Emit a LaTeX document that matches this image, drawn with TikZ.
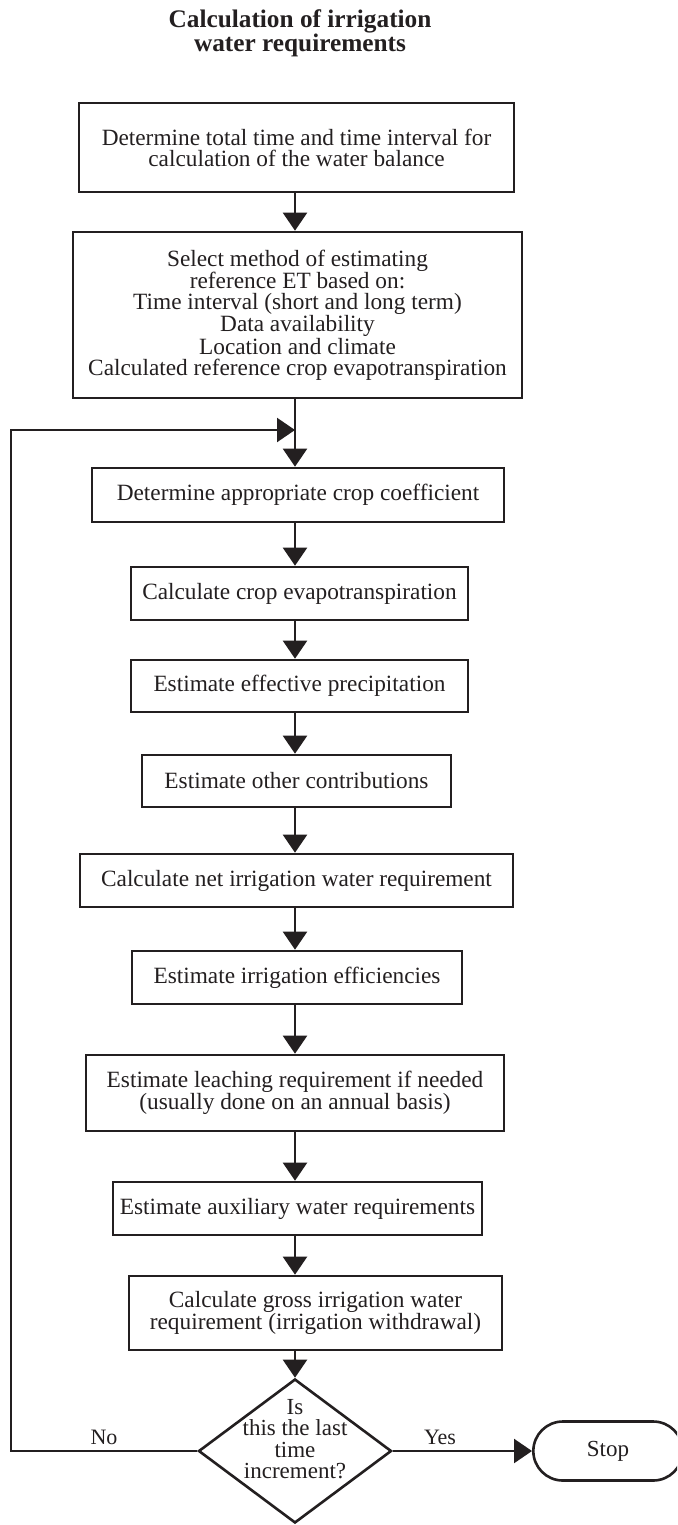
\documentclass[tikz,border=0pt]{standalone}
\usepackage{fontspec}
\setmainfont{Liberation Serif}
\usetikzlibrary{arrows.meta,shapes.geometric,shapes.misc}
\definecolor{ink}{HTML}{231F20}
\begin{document}
\begin{tikzpicture}[x=1pt,y=-1pt,
  box/.style={draw=ink, line width=2.6pt, rectangle, inner sep=0pt, align=center,
              font=\fontsize{23.3}{21}\selectfont, text=ink},
  conn/.style={draw=ink, line width=2.2pt},
  arr/.style={conn, -{Triangle[length=18pt,width=24pt]}},
  lbl/.style={font=\fontsize{22}{22}\selectfont, text=ink, inner sep=0pt}]
\clip (0,0) rectangle (677,1525);
\fill[white] (0,0) rectangle (677,1525);

\node[font=\bfseries\fontsize{25.3}{23}\selectfont, align=center, text=ink, inner sep=0pt] (title) at (300,33)
  {Calculation of irrigation\\water requirements};

\node[box, minimum width=435pt, minimum height=89pt] (b1) at (296.5,147.5)
  {Determine total time and time interval for\\calculation of the water balance};
\node[box, minimum width=449pt, minimum height=166pt] (b2) at (297.5,315)
  {Select method of estimating\\reference ET based on:\\Time interval (short and long term)\\Data availability\\Location and climate\\Calculated reference crop evapotranspiration};
\node[box, minimum width=412pt, minimum height=54pt] (b3) at (298,495)
  {Determine appropriate crop coefficient};
\node[box, minimum width=337pt, minimum height=53pt] (b4) at (299.5,593.5)
  {Calculate crop evapotranspiration};
\node[box, minimum width=337pt, minimum height=52pt] (b5) at (299.5,686)
  {Estimate effective precipitation};
\node[box, minimum width=309pt, minimum height=52pt] (b6) at (296.5,781)
  {Estimate other contributions};
\node[box, minimum width=433pt, minimum height=53pt] (b7) at (296.5,880.5)
  {Calculate net irrigation water requirement};
\node[box, minimum width=330pt, minimum height=53pt] (b8) at (297,977.5)
  {Estimate irrigation efficiencies};
\node[box, minimum width=418pt, minimum height=76pt] (b9) at (295,1093)
  {Estimate leaching requirement if needed\\(usually done on an annual basis)};
\node[box, minimum width=369pt, minimum height=53pt] (b10) at (297.5,1208.5)
  {Estimate auxiliary water requirements};
\node[box, minimum width=373pt, minimum height=74pt] (b11) at (315.5,1313)
  {Calculate gross irrigation water\\requirement (irrigation withdrawal)};

\node[diamond, draw=ink, line width=2.6pt, inner sep=0pt, minimum width=193pt, minimum height=144pt, shape aspect=1.34] (dec) at (295,1451) {};
\node[align=center, font=\fontsize{23}{21.5}\selectfont, text=ink, inner sep=0pt] (dq) at (295,1439)
  {Is\\this the last\\time\\increment?};

\node[rounded rectangle, draw=ink, line width=2.6pt, minimum width=156pt, minimum height=59pt,
      font=\fontsize{23}{23}\selectfont, text=ink] (stop) at (608,1451) {Stop};

\coordinate (sp) at (295,0);
\coordinate (lx) at (11,0);
\coordinate (mg) at (295,430);

\draw[arr] (b1.south -| sp) -- (b2.north -| sp);
\draw[arr] (b2.south -| sp) -- (b3.north -| sp);
\draw[arr] (b3.south -| sp) -- (b4.north -| sp);
\draw[arr] (b4.south -| sp) -- (b5.north -| sp);
\draw[arr] (b5.south -| sp) -- (b6.north -| sp);
\draw[arr] (b6.south -| sp) -- (b7.north -| sp);
\draw[arr] (b7.south -| sp) -- (b8.north -| sp);
\draw[arr] (b8.south -| sp) -- (b9.north -| sp);
\draw[arr] (b9.south -| sp) -- (b10.north -| sp);
\draw[arr] (b10.south -| sp) -- (b11.north -| sp);
\draw[arr] (b11.south -| sp) -- (dec.north);
\draw[arr] (dec.east) -- (stop.west);
\draw[arr] (dec.west) -- (dec.west -| lx) |- (mg);

\node[lbl] (yes) at (440,1437) {Yes};
\node[lbl] (no) at (104,1437) {No};
\end{tikzpicture}
\end{document}
